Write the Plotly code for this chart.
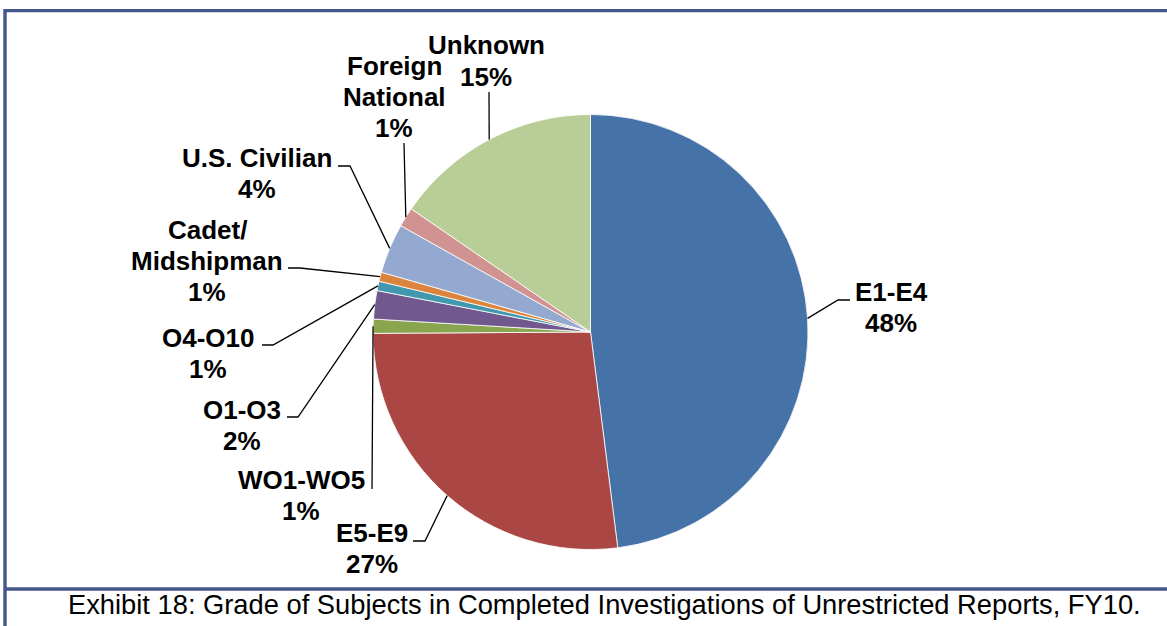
import math
import plotly.graph_objects as go

# ---- data ----
categories = ["E1-E4", "E5-E9", "WO1-WO5", "O1-O3", "O4-O10",
              "Cadet/<br>Midshipman", "U.S. Civilian", "Foreign<br>National", "Unknown"]
shares = [48.0, 26.9, 1.05, 2.1, 0.7, 0.68, 3.7, 1.45, 15.42]
caption = "Exhibit 18: Grade of Subjects in Completed Investigations of Unrestricted Reports, FY10."

# ---- styles / layout ----
colors = ["#4572A7", "#AA4643", "#89A54E", "#71588F", "#4198AF",
          "#DB843D", "#93A9CF", "#D19392", "#B9CD96"]
W, H = 1167, 626
CX, CY, R = 590.5, 332.0, 217.5
FONT = "'Liberation Sans', Arial, sans-serif"
LABEL_SIZE = 26
LINE_GAP = 31
FRAME = "#44578A"

# label block centres and leader elbows / ends (pixel positions)
label_center = [(891, 307.5), (372, 548), (301, 495.5), (242, 425), (208, 353.5),
                (207, 261), (257, 174), (394, 97), (486, 61)]
leader_elbow = [(838, 300), (425, 541), (372, 489), (298, 417), (273, 345),
                (300, 268), (350, 166), (404, 143), (489, 92)]
leader_end = [(850, 300), (413, 541), (372, 489), (287, 417), (262, 345),
              (288, 268), (338, 166), (404, 143), (489, 92)]


def px(x):
    return x / W


def py(y):
    return 1 - y / H


fig = go.Figure()
fig.add_trace(go.Pie(
    labels=categories, values=shares, sort=False, direction="clockwise", rotation=0,
    marker=dict(colors=colors, line=dict(color="white", width=0.8)),
    textinfo="none", showlegend=False, hoverinfo="label+percent",
    domain=dict(x=[px(CX - R), px(CX + R)], y=[py(CY + R), py(CY - R)]),
))

total = sum(shares)
annotations = []
shapes = []
cum = 0.0
for i, (cat, v) in enumerate(zip(categories, shares)):
    mid = (cum + v / 2) / total * 2 * math.pi
    cum += v
    rx = CX + R * math.sin(mid)
    ry = CY - R * math.cos(mid)
    ex, ey = leader_elbow[i]
    fx, fy = leader_end[i]
    shapes.append(dict(type="path", xref="paper", yref="paper",
                       path=f"M {px(rx)},{py(ry)} L {px(ex)},{py(ey)} L {px(fx)},{py(fy)}",
                       line=dict(color="black", width=1.3)))
    pct = f"{int(v / total * 100 + 0.5)}%"
    lines = cat.split("<br>") + [pct]
    cx, cy = label_center[i]
    n = len(lines)
    for j, t in enumerate(lines):
        yy = cy + (j - (n - 1) / 2) * LINE_GAP
        annotations.append(dict(x=px(cx), y=py(yy), xref="paper", yref="paper",
                                text=t, showarrow=False, xanchor="center", yanchor="middle",
                                font=dict(family=FONT, size=LABEL_SIZE, color="black", weight="bold")))

annotations.append(dict(x=px(604), y=py(604), xref="paper", yref="paper", text=caption,
                        showarrow=False, xanchor="center", yanchor="middle",
                        font=dict(family=FONT, size=27.3, color="black")))

# frame lines
for (x0, y0, x1, y1) in [(4, 9, 1167, 12.3), (3.3, 9, 6.7, 626), (4, 587.3, 1167, 590.7)]:
    shapes.append(dict(type="rect", xref="paper", yref="paper",
                       x0=px(x0), x1=px(x1), y0=py(y1), y1=py(y0),
                       fillcolor=FRAME, line=dict(width=0), layer="above"))

fig.update_layout(width=W, height=H, margin=dict(l=0, r=0, t=0, b=0),
                  paper_bgcolor="white", plot_bgcolor="white",
                  annotations=annotations, shapes=shapes)
fig.write_html("out.html", config={"displayModeBar": False},
               post_script="document.body.style.margin='0';document.body.style.overflow='hidden';")
